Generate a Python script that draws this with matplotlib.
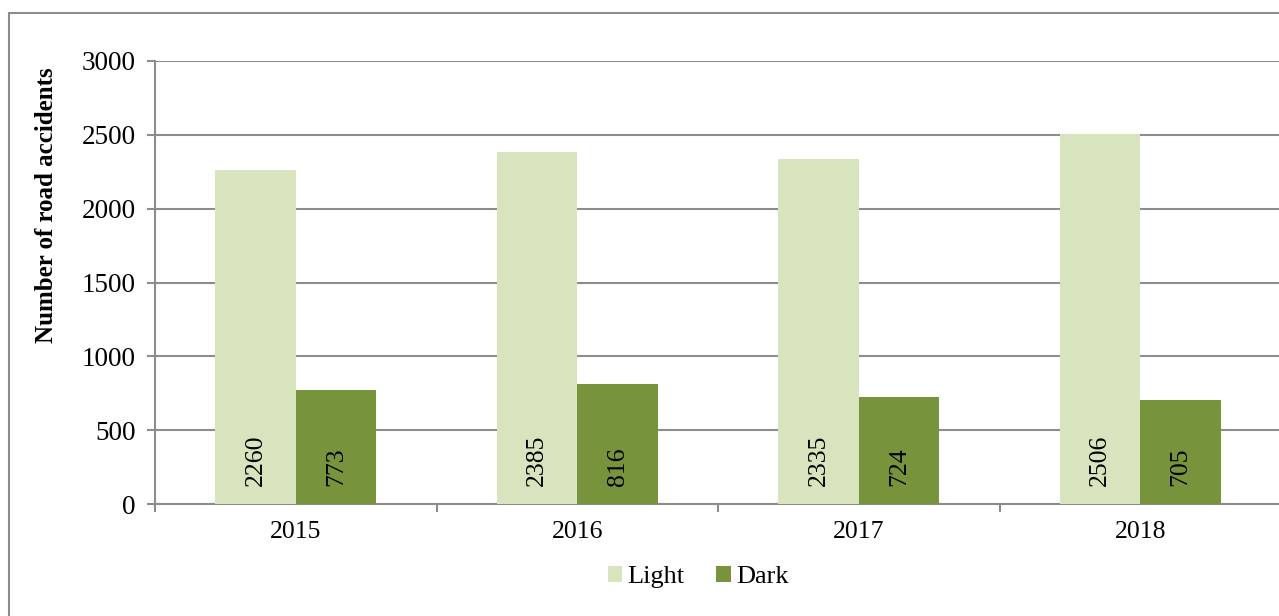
import matplotlib.pyplot as plt
import matplotlib.patches as mpatches

# datos
years = ["2015", "2016", "2017", "2018"]
light = [2260, 2385, 2335, 2506]
dark = [773, 816, 724, 705]
yticks = [0, 500, 1000, 1500, 2000, 2500, 3000]

plt.rcParams['font.family'] = ['Liberation Serif', 'DejaVu Serif']

W, H = 1279, 616
fig = plt.figure(figsize=(W / 100, H / 100), dpi=100)

# marco gris de la figura (se sale por la derecha y abajo)
fig.patches.append(mpatches.Rectangle((9 / W, -0.1), 1.2, 1 - 13 / H + 0.1,
                                      transform=fig.transFigure, fill=False,
                                      edgecolor="#8c8c8c", linewidth=1.5))

ax = fig.add_axes([155 / W, 112 / H, 1126 / W, 443 / H])

x = list(range(len(years)))
w = 0.286
b1 = ax.bar([i - w / 2 for i in x], light, width=w, color="#D7E4BD", label="Light", zorder=3)
b2 = ax.bar([i + w / 2 for i in x], dark, width=w, color="#77933C", label="Dark", zorder=3)

for bars, vals in [(b1, light), (b2, dark)]:
    for r, v in zip(bars, vals):
        ax.annotate(str(v), (r.get_x() + r.get_width() / 2, 0),
                    xytext=(0, 13), textcoords="offset points",
                    rotation=90, ha="center", va="bottom", fontsize=18.5, zorder=4)

ax.set_xlim(-0.5, len(years) - 0.5)
ax.set_ylim(0, 3000)
ax.set_yticks(yticks)
ax.set_yticklabels([str(t) for t in yticks], fontsize=19.5)
ax.set_xticks(x)
ax.set_xticklabels(years, fontsize=18.5)
ax.set_xticks([i - 0.5 for i in range(len(years) + 1)], minor=True)
ax.tick_params(axis="x", which="major", length=0, pad=12)
ax.tick_params(axis="x", which="minor", length=6, width=1.5, color="#8c8c8c")
ax.tick_params(axis="y", length=6, width=1.5, color="#8c8c8c", pad=8)

ax.yaxis.grid(True, color="#8c8c8c", linewidth=1.5, zorder=0)
ax.set_axisbelow(True)
for s in ["top", "right"]:
    ax.spines[s].set_visible(False)
for s in ["left", "bottom"]:
    ax.spines[s].set_color("#8c8c8c")
    ax.spines[s].set_linewidth(1.5)

fig.text(47 / W, 1 - 205 / H, "Number of road accidents", rotation=90,
         ha="center", va="center", fontsize=18, fontweight="bold")

fig.legend(handles=[b1, b2], loc="center", bbox_to_anchor=(698 / W, 1 - 577 / H),
           ncol=2, frameon=False, fontsize=19, handlelength=0.55, handleheight=0.55,
           handletextpad=0.2, columnspacing=1.2)

fig.savefig("out.png", dpi=100)
